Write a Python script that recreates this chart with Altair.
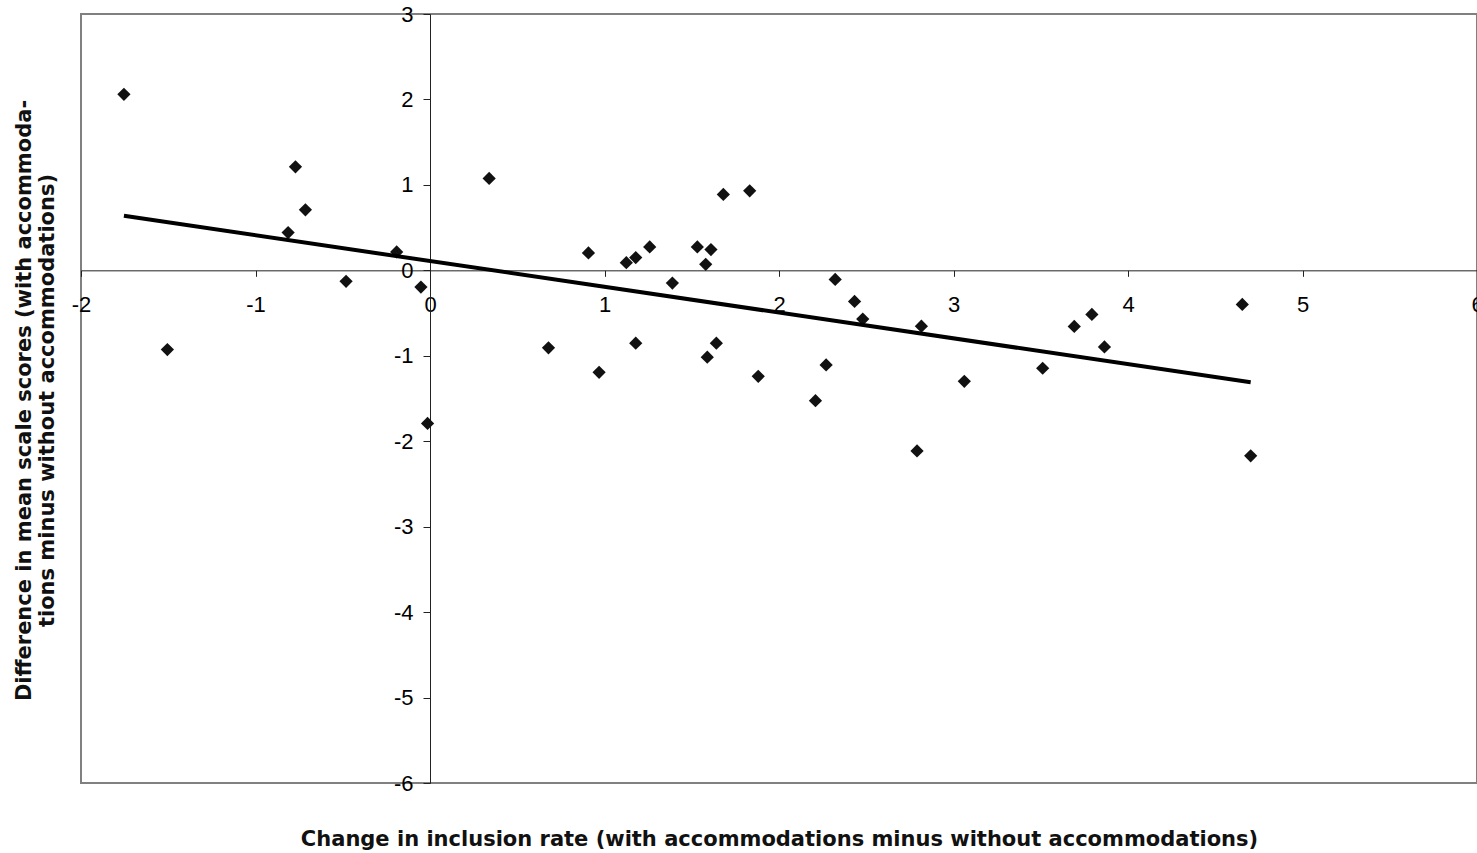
import altair as alt
import pandas as pd

# Data
x_vals = [-1.754, -1.505, -0.813, -0.771, -0.714, -0.481, -0.191, -0.052, -0.014, 0.339,
          0.679, 0.908, 0.969, 1.125, 1.179, 1.179, 1.259, 1.389, 1.532, 1.580,
          1.589, 1.610, 1.641, 1.681, 1.832, 1.881, 2.209, 2.270, 2.322, 2.433,
          2.480, 2.816, 2.791, 3.062, 3.511, 3.692, 3.793, 3.865, 4.655, 4.703]
y_vals = [2.060, -0.927, 0.442, 1.212, 0.708, -0.129, 0.215, -0.196, -1.792, 1.076,
          -0.907, 0.203, -1.193, 0.090, 0.149, -0.853, 0.274, -0.149, 0.274, 0.070,
          -1.017, 0.243, -0.853, 0.888, 0.931, -1.240, -1.526, -1.107, -0.106, -0.364,
          -0.571, -0.654, -2.113, -1.299, -1.146, -0.657, -0.516, -0.896, -0.399, -2.171]
x_ticks = [-2, -1, 0, 1, 2, 3, 4, 5, 6]
y_ticks = [-6, -5, -4, -3, -2, -1, 0, 1, 2, 3]
x_title = "Change in inclusion rate (with accommodations minus without accommodations)"
y_title = ["Difference in mean scale scores (with accommoda-",
           "tions minus without accommodations)"]

df = pd.DataFrame({"x": x_vals, "y": y_vals})

W, H = 1396, 769
XMIN, XMAX = -2, 6
YMIN, YMAX = -6, 3

x_off = -H * (0 - YMIN) / (YMAX - YMIN)
y_off = -W * (0 - XMIN) / (XMAX - XMIN)

label_expr = "'' + datum.value"

x_axis = alt.Axis(
    values=x_ticks, offset=x_off, grid=False, labelExpr=label_expr,
    domainColor="#222222", domainWidth=1, tickColor="#222222", tickWidth=1, tickSize=6,
    labelFont="Liberation Sans", labelFontSize=22, labelColor="#000000", labelPadding=18,
    labelFlush=False, labelOverlap=False,
    title=x_title, titleFont="DejaVu Sans", titleFontSize=21, titleFontWeight="bold",
    titleColor="#111111", titleY=575, titleBaseline="alphabetic", titleAlign="center",
)
y_axis = alt.Axis(
    values=y_ticks, offset=y_off, grid=False, labelExpr=label_expr,
    domainColor="#222222", domainWidth=1, tickColor="#222222", tickWidth=1, tickSize=7,
    labelFont="Liberation Sans", labelFontSize=22, labelColor="#000000", labelPadding=10,
    labelFlush=False, labelOverlap=False,
    title=y_title, titleFont="DejaVu Sans", titleFontSize=21, titleFontWeight="bold",
    titleColor="#111111", titleAngle=270, titleX=-400, titleY=386,
    titleBaseline="alphabetic", titleAlign="center", titleLineHeight=23,
)

xs = alt.Scale(domain=[XMIN, XMAX], nice=False, zero=False)
ys = alt.Scale(domain=[YMIN, YMAX], nice=False, zero=False)

base = alt.Chart(df).encode(
    x=alt.X("x:Q", scale=xs, axis=x_axis),
    y=alt.Y("y:Q", scale=ys, axis=y_axis),
)

points = base.mark_point(shape="diamond", filled=True, size=175, color="#111111", opacity=1)
trend = base.transform_regression("x", "y").mark_line(color="#000000", strokeWidth=4)

chart = alt.layer(points, trend).properties(
    width=W, height=H,
    autosize=alt.AutoSizeParams(type="none"),
    padding={"left": 81, "top": 14, "right": 0, "bottom": 70},
).configure(background="white").configure_view(stroke="#808080", strokeWidth=2)

chart.save("out.html", embed_options={"renderer": "svg", "actions": False})
